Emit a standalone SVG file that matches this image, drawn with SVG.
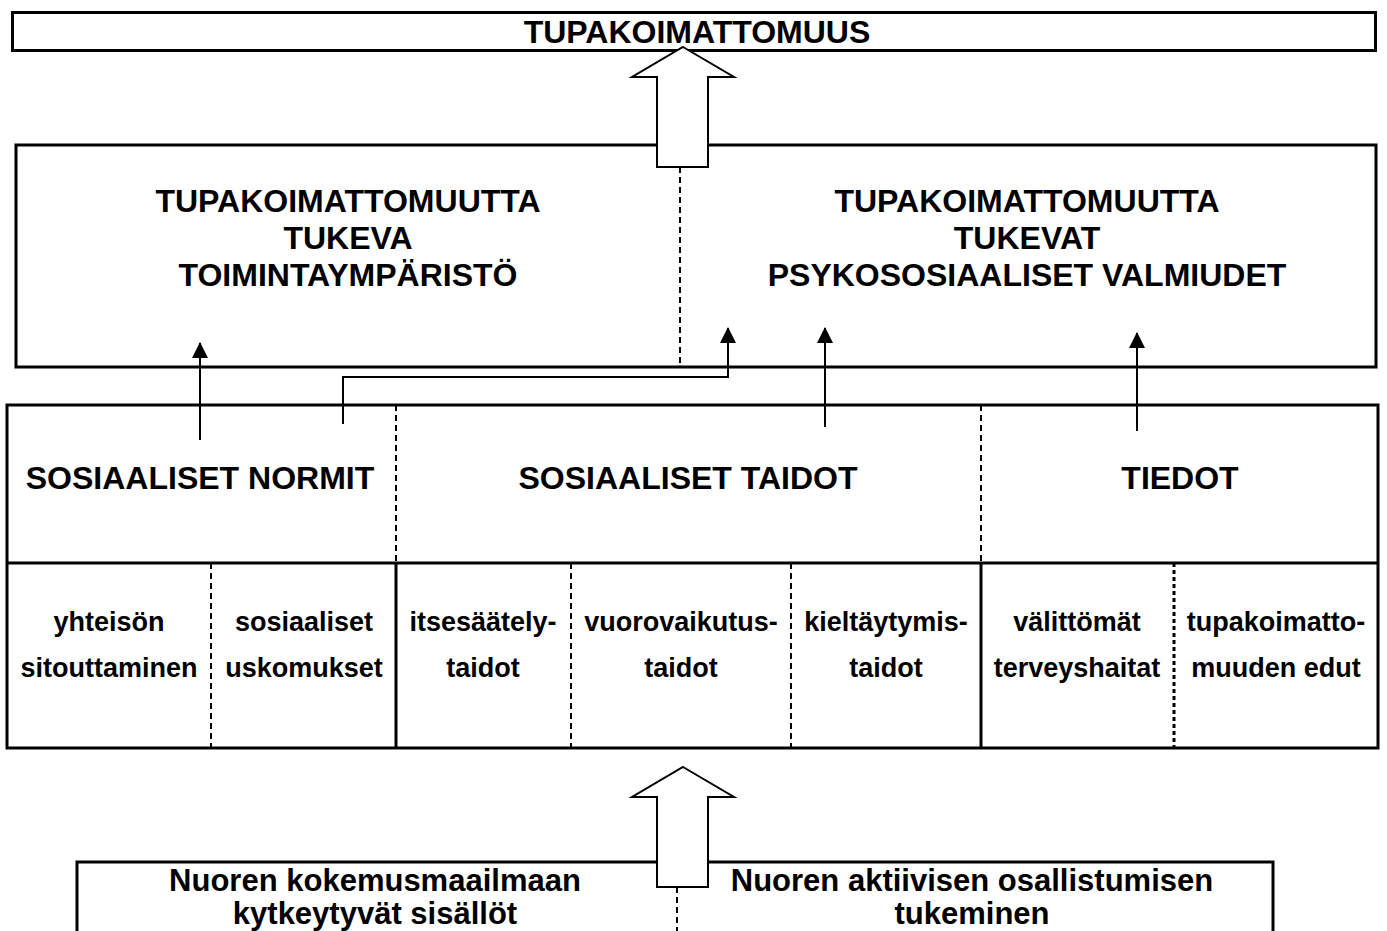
<svg xmlns="http://www.w3.org/2000/svg" width="1387" height="931" viewBox="0 0 1387 931">
<defs>
<marker id="ah" markerUnits="userSpaceOnUse" markerWidth="16" markerHeight="16" viewBox="0 0 16 16" refX="15" refY="8" orient="auto">
<path d="M16,8 L0,0 L0,16 Z" fill="#000"/>
</marker>
<style>
.box{fill:#fff;stroke:#000;stroke-width:3}
.big{fill:#fff;stroke:#000;stroke-width:2}
.t{font-family:"Liberation Sans",Arial,sans-serif;font-weight:bold;fill:#000;text-anchor:middle}
.h{font-size:32px}
.s{font-size:27px}
.b{font-size:31px}
.dash{stroke:#000;stroke-width:2;stroke-dasharray:6 4;fill:none}
.dot{stroke:#000;stroke-width:3;stroke-dasharray:4 3;fill:none}
.sol{stroke:#000;stroke-width:3;fill:none}
.con{stroke:#000;stroke-width:2;fill:none}
</style>
</defs>
<rect width="1387" height="931" fill="#fff"/>

<g id="top">
<rect class="box" x="12.5" y="12.5" width="1363" height="38"/>
<text class="t h" x="697" y="43">TUPAKOIMATTOMUUS</text>
</g>

<g id="middle">
<rect class="box" x="16" y="145" width="1360" height="222"/>
<line class="dash" x1="680" y1="167" x2="680" y2="366"/>
<text class="t h" x="348" y="212">TUPAKOIMATTOMUUTTA</text>
<text class="t h" x="348" y="249">TUKEVA</text>
<text class="t h" x="348" y="286">TOIMINTAYMPÄRISTÖ</text>
<text class="t h" x="1027" y="212">TUPAKOIMATTOMUUTTA</text>
<text class="t h" x="1027" y="249">TUKEVAT</text>
<text class="t h" x="1027" y="286">PSYKOSOSIAALISET VALMIUDET</text>
</g>

<g id="top-arrow">
<polygon class="big" points="683,47 734,77 708,77 708,167 657,167 657,77 632,77"/>
</g>

<g id="components">
<rect class="box" x="7" y="405" width="1371" height="343"/>
<line class="sol" x1="7" y1="563" x2="1378" y2="563"/>
<line class="dash" x1="396" y1="405" x2="396" y2="563"/>
<line class="dash" x1="981" y1="405" x2="981" y2="563"/>
<line class="dash" x1="211" y1="563" x2="211" y2="748"/>
<line class="sol" x1="396" y1="563" x2="396" y2="748"/>
<line class="dash" x1="571" y1="563" x2="571" y2="748"/>
<line class="dash" x1="791" y1="563" x2="791" y2="748"/>
<line class="sol" x1="981" y1="563" x2="981" y2="748"/>
<line class="dot" x1="1174" y1="563" x2="1174" y2="748"/>
</g>

<g id="sosiaaliset-normit">
<text class="t h" x="200" y="489">SOSIAALISET NORMIT</text>
</g>
<g id="sosiaaliset-taidot">
<text class="t h" x="688" y="489">SOSIAALISET TAIDOT</text>
</g>
<g id="tiedot">
<text class="t h" x="1180" y="489">TIEDOT</text>
</g>

<g id="yhteison">
<text class="t s" x="109" y="631">yhteisön</text>
<text class="t s" x="109" y="677">sitouttaminen</text>
</g>
<g id="uskomukset">
<text class="t s" x="304" y="631">sosiaaliset</text>
<text class="t s" x="304" y="677">uskomukset</text>
</g>
<g id="itsesaately">
<text class="t s" x="483" y="631">itsesäätely-</text>
<text class="t s" x="483" y="677">taidot</text>
</g>
<g id="vuorovaikutus">
<text class="t s" x="681" y="631">vuorovaikutus-</text>
<text class="t s" x="681" y="677">taidot</text>
</g>
<g id="kieltaytymis">
<text class="t s" x="886" y="631">kieltäytymis-</text>
<text class="t s" x="886" y="677">taidot</text>
</g>
<g id="terveyshaitat">
<text class="t s" x="1077" y="631">välittömät</text>
<text class="t s" x="1077" y="677">terveyshaitat</text>
</g>
<g id="edut">
<text class="t s" x="1276" y="631">tupakoimatto-</text>
<text class="t s" x="1276" y="677">muuden edut</text>
</g>

<g id="connectors">
<line class="con" x1="200" y1="440" x2="200" y2="343" marker-end="url(#ah)"/>
<polyline class="con" points="343,424 343,377 728,377 728,328" marker-end="url(#ah)"/>
<line class="con" x1="825" y1="427" x2="825" y2="328" marker-end="url(#ah)"/>
<line class="con" x1="1137" y1="431" x2="1137" y2="333" marker-end="url(#ah)"/>
</g>

<g id="bottom">
<rect class="box" x="77" y="862" width="1196" height="120"/>
<line class="dash" x1="677" y1="887" x2="677" y2="931"/>
<text class="t b" x="375" y="891">Nuoren kokemusmaailmaan</text>
<text class="t b" x="375" y="924">kytkeytyvät sisällöt</text>
<text class="t b" x="972" y="891">Nuoren aktiivisen osallistumisen</text>
<text class="t b" x="972" y="924">tukeminen</text>
</g>

<g id="bottom-arrow">
<polygon class="big" points="683,767 734,797 708,797 708,887 657,887 657,797 632,797"/>
</g>
</svg>
